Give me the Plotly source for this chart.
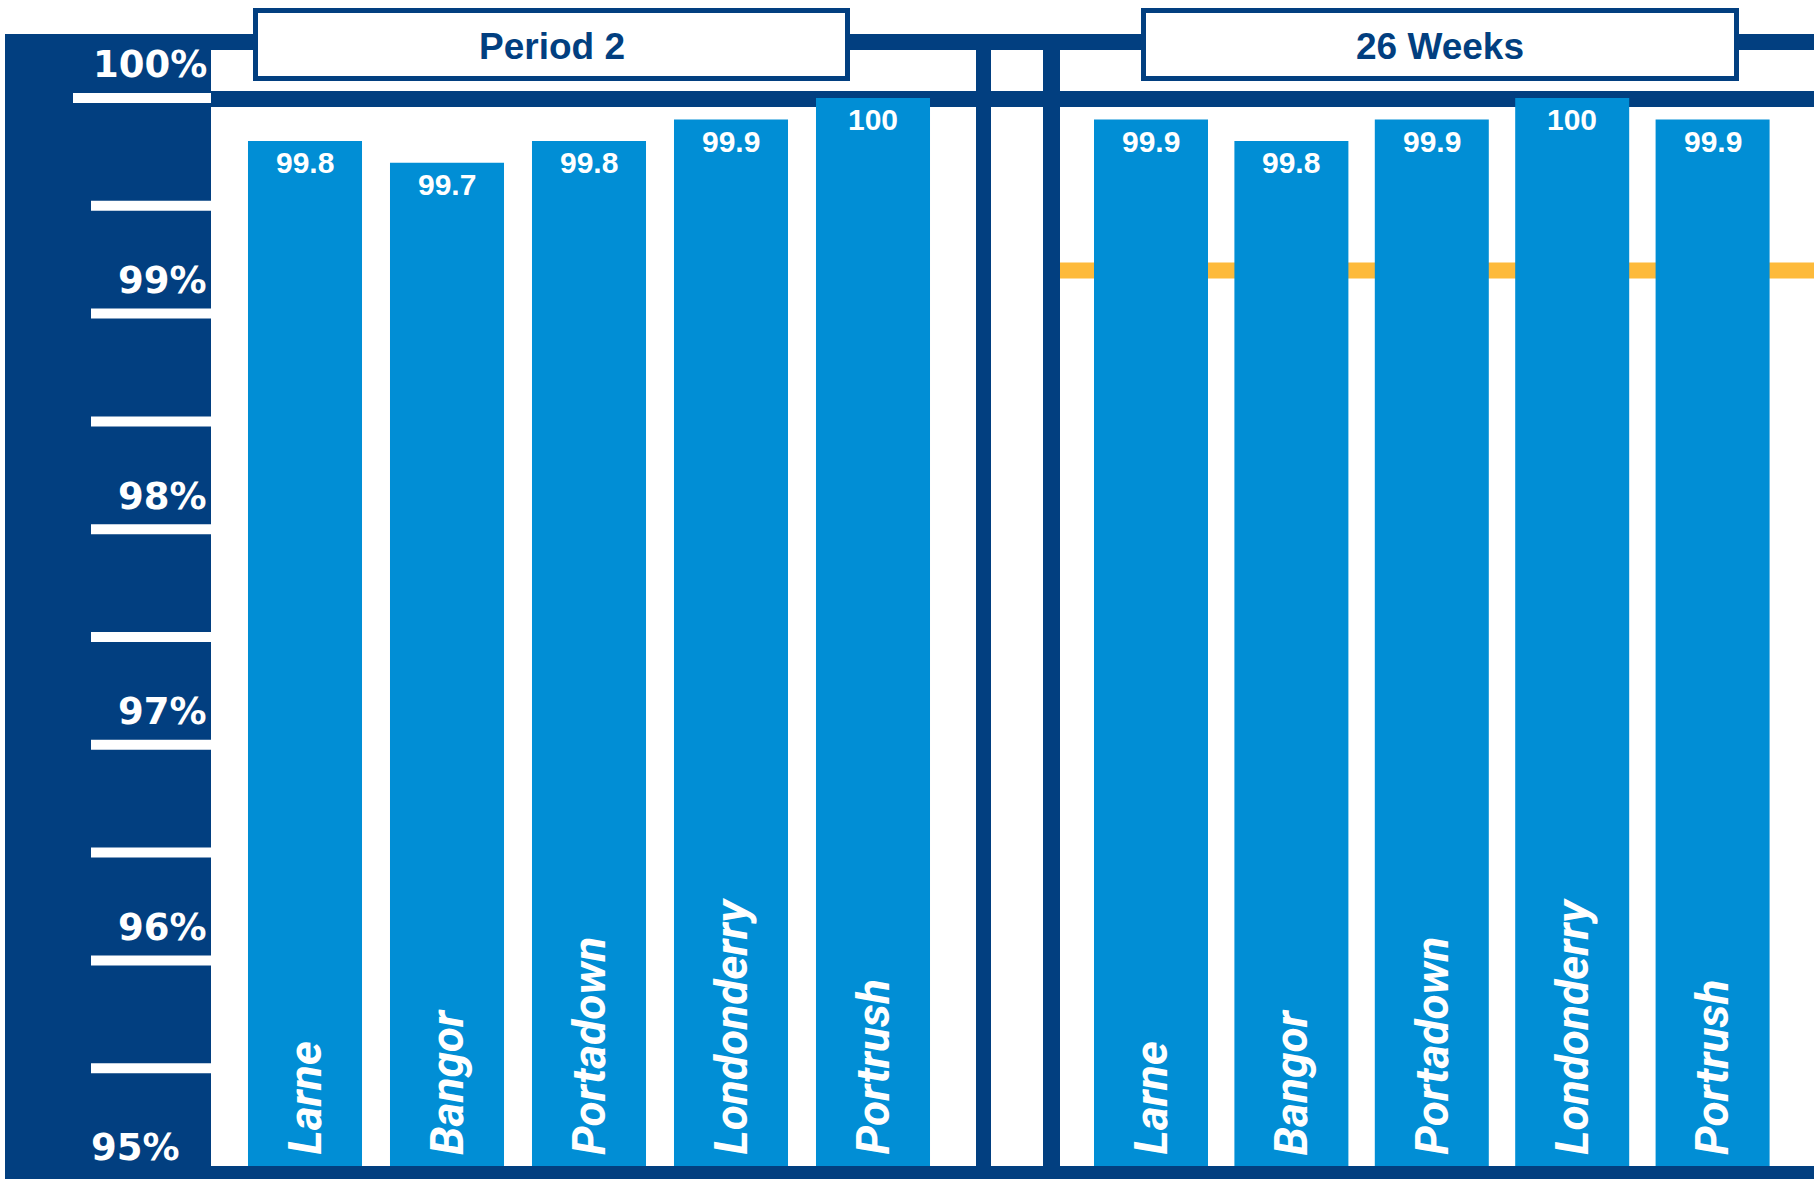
import plotly.graph_objects as go

# ---------------- data ----------------
regions = ["Larne", "Bangor", "Portadown", "Londonderry", "Portrush"]
period2_values = [99.8, 99.7, 99.8, 99.9, 100]
weeks26_values = [99.9, 99.8, 99.9, 100, 99.9]
panel_titles = ["Period 2", "26 Weeks"]
target_26w = 99.2
minor_ticks = [99.5, 99, 98.5, 98, 97.5, 97, 96.5, 96, 95.5]
label_values = [100, 99, 98, 97, 96, 95]
label_texts = ["100%", "99%", "98%", "97%", "96%", "95%"]

# ---------------- style ----------------
W, H = 1814, 1179
NAVY = "#023F80"
BLUE = "#018ED5"
ORANGE = "#FDBA3B"
WHITE = "#FFFFFF"
Y_RANGE = [94.986, 100.4545]


def px(x):
    return x / W


def py(y):
    return 1 - y / H


fig = go.Figure()
fig.add_trace(go.Bar(x=regions, y=period2_values, xaxis="x", yaxis="y",
                     marker=dict(color=BLUE, line=dict(width=0)), width=0.803,
                     hoverinfo="x+y", showlegend=False))
fig.add_trace(go.Bar(x=regions, y=weeks26_values, xaxis="x2", yaxis="y2",
                     marker=dict(color=BLUE, line=dict(width=0)), width=0.812,
                     hoverinfo="x+y", showlegend=False))

shapes = []
# left navy panel
shapes.append(dict(type="rect", xref="paper", yref="paper", x0=px(5), x1=px(211),
                   y0=0, y1=py(34), fillcolor=NAVY, line=dict(width=0), layer="below"))
# top band
shapes.append(dict(type="rect", xref="paper", yref="paper", x0=px(205), x1=1,
                   y0=py(50), y1=py(34), fillcolor=NAVY, line=dict(width=0), layer="below"))
# 100% band
shapes.append(dict(type="rect", xref="paper", yref="y", ysizemode="pixel", yanchor=100,
                   y0=-9, y1=7, x0=px(211), x1=1, fillcolor=NAVY, line=dict(width=0), layer="below"))
# orange target line (26 weeks)
shapes.append(dict(type="rect", xref="paper", yref="y", ysizemode="pixel", yanchor=target_26w,
                   y0=-8, y1=8, x0=px(1060), x1=1, fillcolor=ORANGE, line=dict(width=0), layer="below"))
# vertical dividers
for a, b in [(976, 991), (1043, 1060)]:
    shapes.append(dict(type="rect", xref="paper", yref="paper", x0=px(a), x1=px(b),
                       y0=0, y1=py(45), fillcolor=NAVY, line=dict(width=0), layer="below"))
# white tick marks on the left panel
shapes.append(dict(type="rect", xref="paper", yref="y", ysizemode="pixel", yanchor=100,
                   y0=-5, y1=5, x0=px(73), x1=px(211), fillcolor=WHITE, line=dict(width=0), layer="below"))
for t in minor_ticks:
    shapes.append(dict(type="rect", xref="paper", yref="y", ysizemode="pixel", yanchor=t,
                       y0=-5, y1=5, x0=px(91), x1=px(211), fillcolor=WHITE, line=dict(width=0), layer="below"))
# title boxes
box_x = [(253, 850), (1141, 1739)]
for (a, b) in box_x:
    shapes.append(dict(type="rect", xref="paper", yref="paper", x0=px(a + 2.5), x1=px(b - 2.5),
                       y0=py(78.5), y1=py(10.5), fillcolor=WHITE, line=dict(color=NAVY, width=5),
                       layer="below"))
# bottom band
shapes.append(dict(type="rect", xref="paper", yref="paper", x0=px(5), x1=1,
                   y0=0, y1=py(1166), fillcolor=NAVY, line=dict(width=0), layer="above"))

annotations = []
for (a, b), title in zip(box_x, panel_titles):
    annotations.append(dict(xref="paper", yref="paper", x=px((a + b) / 2), y=py(47),
                            text=title, showarrow=False, xanchor="center", yanchor="middle",
                            font=dict(family="Liberation Sans", size=37, color=NAVY, weight="bold")))

for v, t in zip(label_values, label_texts):
    if v == 95:
        xr, ys = 182, 28
    else:
        xr, ys = 209, 33
    annotations.append(dict(xref="paper", yref="y", x=px(xr), y=v, yshift=ys,
                            text=t, showarrow=False, xanchor="right", yanchor="middle",
                            font=dict(family="DejaVu Sans", size=37, color=WHITE, weight="bold")))

for xref, vals in [("x", period2_values), ("x2", weeks26_values)]:
    yref = "y" if xref == "x" else "y2"
    for r, v in zip(regions, vals):
        annotations.append(dict(xref=xref, yref=yref, x=r, y=v, yshift=-3,
                                text=f"{v:g}", showarrow=False, xanchor="center", yanchor="top",
                                font=dict(family="Liberation Sans", size=30, color=WHITE, weight="bold")))
        annotations.append(dict(xref=xref, yref=yref, x=r, y=95, yshift=19,
                                text=r, showarrow=False, xanchor="center", yanchor="bottom",
                                textangle=-90,
                                font=dict(family="Roboto", size=46, color=WHITE,
                                          weight="bold", style="italic")))

fig.update_layout(
    width=W, height=H,
    margin=dict(l=0, r=0, t=0, b=0, pad=0),
    paper_bgcolor=WHITE, plot_bgcolor="rgba(0,0,0,0)",
    bargap=0.2, showlegend=False,
    xaxis=dict(domain=[px(234), px(944)], range=[-0.5, 4.5], visible=False, anchor="y"),
    xaxis2=dict(domain=[px(1080.8), px(1782.8)], range=[-0.5, 4.5], visible=False, anchor="y2"),
    yaxis=dict(domain=[0, 1], range=Y_RANGE, visible=False, anchor="x"),
    yaxis2=dict(domain=[0, 1], range=Y_RANGE, visible=False, anchor="x2", matches="y"),
    shapes=shapes, annotations=annotations,
)

fig.write_html("out.html", config={"displayModeBar": False},
               post_script="document.body.style.margin='0';document.body.style.overflow='hidden';")
